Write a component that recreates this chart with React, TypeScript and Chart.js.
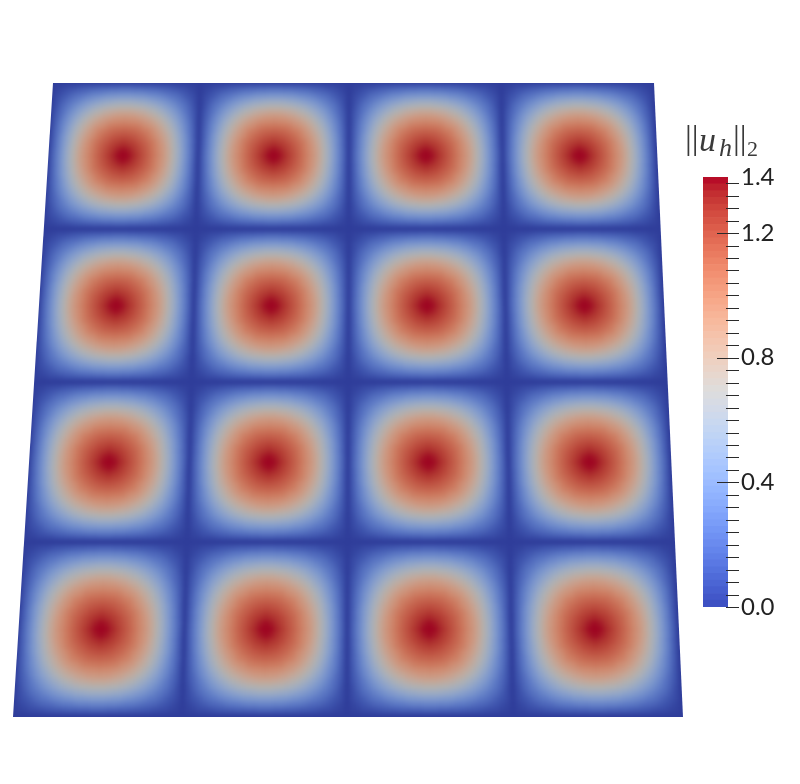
import React, { useEffect, useRef } from "react";
import { Chart, registerables } from "chart.js";

Chart.register(...registerables);

// Norm of the discrete velocity over one cell: quarter of a cell,
// centre of the vortex at [0][0], cell boundary at the last row and column.
const quarterCellValues: number[][] = [
  [1.40, 1.37, 1.33, 1.28, 1.22, 1.16, 1.09, 1.01, 0.93, 0.82, 0.70, 0.57, 0.43, 0.29, 0.15, 0.00],
  [1.37, 1.35, 1.31, 1.26, 1.21, 1.15, 1.08, 1.00, 0.92, 0.82, 0.70, 0.57, 0.43, 0.29, 0.15, 0.00],
  [1.33, 1.31, 1.28, 1.24, 1.19, 1.14, 1.07, 0.99, 0.91, 0.80, 0.68, 0.56, 0.42, 0.28, 0.14, 0.00],
  [1.28, 1.26, 1.24, 1.20, 1.16, 1.11, 1.05, 0.97, 0.88, 0.78, 0.67, 0.54, 0.41, 0.28, 0.14, 0.00],
  [1.22, 1.21, 1.19, 1.16, 1.12, 1.07, 1.00, 0.93, 0.85, 0.75, 0.64, 0.52, 0.40, 0.27, 0.13, 0.00],
  [1.16, 1.15, 1.14, 1.11, 1.07, 1.03, 0.96, 0.89, 0.80, 0.71, 0.61, 0.49, 0.37, 0.25, 0.13, 0.00],
  [1.09, 1.08, 1.07, 1.05, 1.00, 0.96, 0.91, 0.83, 0.76, 0.67, 0.57, 0.46, 0.35, 0.24, 0.12, 0.00],
  [1.01, 1.00, 0.99, 0.97, 0.93, 0.89, 0.83, 0.77, 0.70, 0.61, 0.52, 0.42, 0.32, 0.22, 0.11, 0.00],
  [0.93, 0.92, 0.91, 0.88, 0.85, 0.80, 0.76, 0.70, 0.63, 0.55, 0.47, 0.38, 0.29, 0.19, 0.10, 0.00],
  [0.82, 0.82, 0.80, 0.78, 0.75, 0.71, 0.67, 0.61, 0.55, 0.48, 0.41, 0.33, 0.25, 0.17, 0.09, 0.00],
  [0.70, 0.70, 0.68, 0.67, 0.64, 0.61, 0.57, 0.52, 0.47, 0.41, 0.35, 0.28, 0.22, 0.15, 0.07, 0.00],
  [0.57, 0.57, 0.56, 0.54, 0.52, 0.49, 0.46, 0.42, 0.38, 0.33, 0.28, 0.23, 0.18, 0.12, 0.06, 0.00],
  [0.43, 0.43, 0.42, 0.41, 0.40, 0.37, 0.35, 0.32, 0.29, 0.25, 0.22, 0.18, 0.13, 0.09, 0.05, 0.00],
  [0.29, 0.29, 0.28, 0.28, 0.27, 0.25, 0.24, 0.22, 0.19, 0.17, 0.15, 0.12, 0.09, 0.06, 0.03, 0.00],
  [0.15, 0.15, 0.14, 0.14, 0.13, 0.13, 0.12, 0.11, 0.10, 0.09, 0.07, 0.06, 0.05, 0.03, 0.02, 0.00],
  [0.00, 0.00, 0.00, 0.00, 0.00, 0.00, 0.00, 0.00, 0.00, 0.00, 0.00, 0.00, 0.00, 0.00, 0.00, 0.00],
];

// Projected mesh lines of the 4 x 4 vortex array (in the units of the hidden axes).
const columnLinesTop = [53, 201, 350, 502, 654];
const columnLinesBottom = [13, 183, 348, 514, 683];
const rowLines = [83, 230, 383, 543, 717];

// Colour bar.
const scaleMax = 1.38;
const barLevels = [
  0, 0.022, 0.043, 0.065, 0.086, 0.108, 0.129, 0.151, 0.172, 0.194, 0.216, 0.237, 0.259, 0.28, 0.302, 0.323,
  0.345, 0.366, 0.388, 0.409, 0.431, 0.453, 0.474, 0.496, 0.517, 0.539, 0.56, 0.582, 0.603, 0.625, 0.647, 0.668,
  0.69, 0.711, 0.733, 0.754, 0.776, 0.797, 0.819, 0.841, 0.862, 0.884, 0.905, 0.927, 0.948, 0.97, 0.991, 1.013,
  1.034, 1.056, 1.078, 1.099, 1.121, 1.142, 1.164, 1.185, 1.207, 1.228, 1.25, 1.272, 1.293, 1.315, 1.336, 1.358, 1.38,
];
const barTicks = [
  0, 0.04, 0.08, 0.12, 0.16, 0.2, 0.24, 0.28, 0.32, 0.36, 0.4, 0.44, 0.48, 0.52, 0.56, 0.6, 0.64, 0.68, 0.72,
  0.76, 0.8, 0.84, 0.88, 0.92, 0.96, 1, 1.04, 1.08, 1.12, 1.16, 1.2, 1.24, 1.28, 1.32, 1.36,
];
const majorTicks = [0.4, 0.8, 1.2];
const labelledTicks: [number, string][] = [[0, "0.0"], [0.4, "0.4"], [0.8, "0.8"], [1.2, "1.2"], [1.38, "1.4"]];

// Cool-to-warm colour map.
const colorMap: number[][] = [
  [59, 76, 192], [68, 90, 204], [77, 104, 215], [87, 117, 225], [98, 130, 234], [108, 142, 241], [119, 154, 247],
  [130, 165, 251], [141, 176, 254], [152, 185, 255], [163, 194, 255], [174, 201, 253], [184, 208, 249],
  [194, 213, 244], [204, 217, 238], [213, 219, 230], [221, 221, 221], [229, 216, 209], [236, 211, 197],
  [241, 204, 185], [245, 196, 173], [247, 187, 160], [247, 177, 148], [247, 166, 135], [244, 154, 123],
  [241, 141, 111], [236, 127, 99], [229, 112, 88], [222, 96, 77], [213, 80, 66], [203, 62, 56], [192, 40, 47],
  [180, 4, 38],
];

function rgb(c: number[]) {
  return `rgb(${Math.round(c[0])},${Math.round(c[1])},${Math.round(c[2])})`;
}
function mapColor(v: number): number[] {
  const t = Math.max(0, Math.min(1, v / scaleMax)) * (colorMap.length - 1);
  const i = Math.min(colorMap.length - 2, Math.floor(t));
  const f = t - i;
  return colorMap[i].map((c, k) => c + (colorMap[i + 1][k] - c) * f);
}
function fieldColor(v: number) {
  const warm = Math.max(0, Math.min(1, (v - 0.7) / 0.6));
  const shade = 0.8 + 0.07 * warm;
  return rgb(mapColor(v).map((x) => x * shade));
}

function buildCells() {
  const points: { x: number; y: number }[] = [];
  const colors: string[] = [];
  const radii: number[] = [];
  const n = quarterCellValues.length - 1;
  const margin = 5;
  const top = rowLines[0];
  const height = rowLines[rowLines.length - 1] - top;
  for (let r = 0; r < rowLines.length - 1; r++) {
    for (let c = 0; c < columnLinesTop.length - 1; c++) {
      const aMin = c === 0 ? -n - margin : -n;
      const aMax = c === columnLinesTop.length - 2 ? n + margin : n;
      const bMin = r === 0 ? -n - margin : -n;
      const bMax = r === rowLines.length - 2 ? n + margin : n;
      for (let b = bMin; b <= bMax; b++) {
        const y = rowLines[r] + ((b + n) / (2 * n)) * (rowLines[r + 1] - rowLines[r]);
        const t = (y - top) / height;
        const left = columnLinesTop[c] + (columnLinesBottom[c] - columnLinesTop[c]) * t;
        const right = columnLinesTop[c + 1] + (columnLinesBottom[c + 1] - columnLinesTop[c + 1]) * t;
        for (let a = aMin; a <= aMax; a++) {
          const x = left + ((a + n) / (2 * n)) * (right - left);
          const v = quarterCellValues[Math.min(n, Math.abs(b))][Math.min(n, Math.abs(a))];
          points.push({ x, y });
          colors.push(fieldColor(v));
          const side = Math.max(right - left, rowLines[r + 1] - rowLines[r]) / (2 * n) + 1.5;
          radii.push(side / Math.SQRT2);
        }
      }
    }
  }
  return { points, colors, radii };
}

const barMarksPlugin = {
  id: "barMarks",
  afterDraw(chart: any) {
    const { ctx, chartArea, scales } = chart;
    const y = scales.y;
    ctx.save();
    ctx.strokeStyle = "#2a2a2a";
    ctx.lineWidth = 1;
    barTicks.forEach((v) => {
      const py = Math.round(y.getPixelForValue(v)) + 0.5;
      const inset = majorTicks.includes(v) ? 11 : 2;
      ctx.beginPath();
      ctx.moveTo(chartArea.right - inset, py);
      ctx.lineTo(chartArea.right + 11, py);
      ctx.stroke();
    });
    // Legend heading: ||u_h||_2
    const base = chartArea.top - 26;
    ctx.fillStyle = "#3a3a3a";
    ctx.textBaseline = "alphabetic";
    ctx.textAlign = "left";
    ctx.font = '34px "Liberation Serif"';
    ctx.fillText("||", 685, base - 2.5);
    ctx.fillText("||", 733, base - 2.5);
    ctx.font = 'italic 34px "Liberation Serif"';
    ctx.fillText("u", 699, base);
    ctx.font = 'italic 26px "Liberation Serif"';
    ctx.fillText("h", 719, base + 5);
    ctx.font = '22px "Liberation Serif"';
    ctx.fillText("2", 747, base + 5);
    ctx.restore();
  },
};

export default function App() {
  const fieldRef = useRef<HTMLCanvasElement>(null);
  const barRef = useRef<HTMLCanvasElement>(null);

  useEffect(() => {
    const cells = buildCells();
    const field = new Chart(fieldRef.current as HTMLCanvasElement, {
      type: "scatter",
      data: {
        datasets: [
          {
            data: cells.points,
            pointStyle: "rect",
            pointRadius: cells.radii,
            pointBackgroundColor: cells.colors,
            pointBorderWidth: 0,
            clip: false,
          } as any,
        ],
      },
      options: {
        animation: false,
        responsive: false,
        events: [],
        layout: { padding: 0, autoPadding: false },
        plugins: { legend: { display: false }, tooltip: { enabled: false } },
        scales: {
          x: { type: "linear", min: 0, max: 800, display: false },
          y: { type: "linear", min: 0, max: 784, reverse: true, display: false },
        },
      },
    });

    const bands = barLevels.slice(0, -1).map((lo, i) => {
      const hi = barLevels[i + 1];
      return {
        data: [[lo, hi]],
        backgroundColor: rgb(mapColor((lo + hi) / 2)),
        borderWidth: 0,
        barPercentage: 1,
        categoryPercentage: 1,
        grouped: false,
      };
    });
    const bar = new Chart(barRef.current as HTMLCanvasElement, {
      type: "bar",
      data: { labels: ["norm"], datasets: bands as any },
      options: {
        animation: false,
        responsive: false,
        events: [],
        layout: { padding: { left: 703, right: 0, top: 177, bottom: 177 } },
        plugins: { legend: { display: false }, tooltip: { enabled: false } },
        scales: {
          x: { display: false, stacked: false },
          y: {
            type: "linear",
            position: "right",
            min: 0,
            max: scaleMax,
            border: { display: false },
            grid: { display: false, drawTicks: false, tickLength: 0 },
            afterBuildTicks: (scale: any) => {
              scale.ticks = labelledTicks.map(([value]) => ({ value }));
            },
            afterFit: (scale: any) => {
              scale.width = 72;
            },
            ticks: {
              autoSkip: false,
              padding: 13,
              maxRotation: 0,
              color: "#222",
              font: { family: "Lato", size: 24, weight: "400" },
              callback: (v: any) => {
                const hit = labelledTicks.find(([value]) => value === Number(v));
                return hit ? hit[1] : "";
              },
            },
          } as any,
        },
      },
      plugins: [barMarksPlugin],
    });
    return () => {
      field.destroy();
      bar.destroy();
    };
  }, []);

  const layer: React.CSSProperties = { position: "absolute", left: 0, top: 0, width: 800, height: 784 };
  return (
    <div style={{ ...layer, background: "#fff" }}>
      <div style={{ ...layer, clipPath: "polygon(53px 83px, 654px 83px, 683px 717px, 13px 717px)" }}>
        <canvas ref={fieldRef} width={800} height={784} style={{ ...layer, filter: "blur(2px)" }} />
      </div>
      <canvas ref={barRef} width={800} height={784} style={layer} />
    </div>
  );
}
